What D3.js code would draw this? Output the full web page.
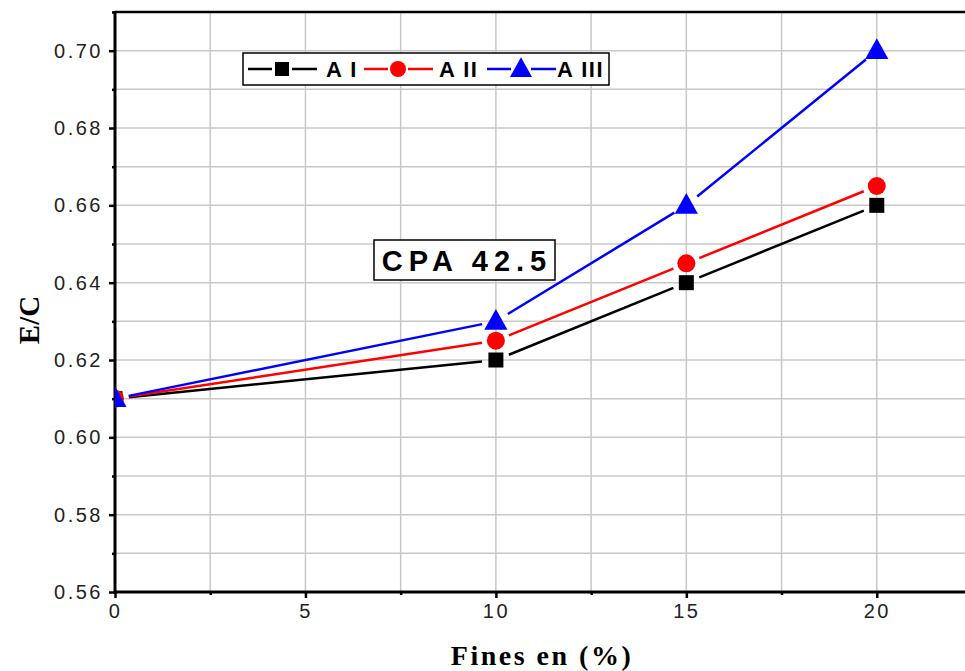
<!DOCTYPE html>
<html><head><meta charset="utf-8">
<script src="https://cdn.jsdelivr.net/npm/d3@7"></script>
<style>body{margin:0;background:#fff}svg{display:block}</style>
</head><body>
<script>
const fines = [0, 10, 15, 20];
const seriesNames = ["A I", "A II", "A III"];
const valuesAI = [0.61, 0.62, 0.64, 0.66];
const valuesAII = [0.61, 0.625, 0.645, 0.665];
const valuesAIII = [0.61, 0.63, 0.66, 0.70];
const xTicks = [0, 5, 10, 15, 20];
const yTicks = [0.56, 0.58, 0.60, 0.62, 0.64, 0.66, 0.68, 0.70];
const colors = ["#000000", "#ff0000", "#0000ff"];
const shapes = ["square", "circle", "triangle"];
const annotation = "CPA 42.5";

const W = 965, H = 671;
const svg = d3.select("body").append("svg").attr("width", W).attr("height", H);
const x = d3.scaleLinear().domain([0, 22.5]).range([115, 972]);
const y = d3.scaleLinear().domain([0.56, 0.71]).range([592, 12]);

svg.append("defs").append("clipPath").attr("id","clip")
  .append("rect").attr("x",115).attr("y",12).attr("width",W-115).attr("height",580);

// grid
const g = svg.append("g");
d3.range(0, 22.6, 2.5).forEach(v => {
  g.append("line").attr("x1",x(v)).attr("x2",x(v)).attr("y1",y(0.71)).attr("y2",y(0.56))
    .attr("stroke","#c8c8c8").attr("stroke-width",1.5);
});
d3.range(0,16).map(i=>0.56+i*0.01).forEach(v => {
  g.append("line").attr("x1",x(0)).attr("x2",W).attr("y1",y(v)).attr("y2",y(v))
    .attr("stroke","#c8c8c8").attr("stroke-width",1.5);
});

// axes
const xAxis = d3.axisBottom(x).tickValues(xTicks).tickSize(6).tickPadding(6).tickFormat(d3.format("d"));
const xMinor = d3.axisBottom(x).tickValues(d3.range(2.5, 22.6, 5)).tickSize(3).tickFormat("");
const yAxis = d3.axisLeft(y).tickValues(yTicks).tickSize(6).tickPadding(6).tickFormat(d3.format(".2f"));
const yMinor = d3.axisLeft(y).tickValues(d3.range(0,8).map(i=>0.57+i*0.02)).tickSize(3).tickFormat("");

function styleAxis(sel){
  sel.attr("font-size", 20).attr("font-family", "Liberation Sans, Arial, sans-serif");
  sel.select(".domain").remove();
  sel.selectAll(".tick line").attr("stroke","#000").attr("stroke-width",2.5);
  sel.selectAll(".tick text").attr("fill","#222").style("font-size","20px").style("letter-spacing","2.5px");
}
svg.append("g").attr("transform","translate(0,592)").call(xAxis).call(styleAxis);
svg.append("g").attr("transform","translate(0,592)").call(xMinor).call(styleAxis);
svg.append("g").attr("transform","translate(115,0)").call(yAxis).call(styleAxis);
svg.append("g").attr("transform","translate(115,0)").call(yMinor).call(styleAxis);

// frame lines
svg.append("line").attr("x1",115).attr("x2",W).attr("y1",12).attr("y2",12).attr("stroke","#000").attr("stroke-width",2.5);
svg.append("line").attr("x1",115).attr("x2",W).attr("y1",592).attr("y2",592).attr("stroke","#000").attr("stroke-width",3);
svg.append("line").attr("x1",115).attr("x2",115).attr("y1",11).attr("y2",594).attr("stroke","#000").attr("stroke-width",3);

// markers
function marker(sel, shape, cx, cy, color, s){
  if(shape==="square") sel.append("rect").attr("x",cx-s/2).attr("y",cy-s/2).attr("width",s).attr("height",s).attr("fill",color);
  else if(shape==="circle") sel.append("circle").attr("cx",cx).attr("cy",cy).attr("r",s/2).attr("fill",color);
  else sel.append("path").attr("d",`M${cx},${cy-s*0.62}L${cx+s*0.58},${cy+s*0.42}L${cx-s*0.58},${cy+s*0.42}Z`).attr("fill",color);
}
const sizes = [15, 18, 20];
const plot = svg.append("g").attr("clip-path","url(#clip)");
[valuesAI, valuesAII, valuesAIII].forEach((vals, si) => {
  const pts = fines.map((f,i)=>[x(f), y(vals[i])]);
  for(let i=0;i<pts.length-1;i++){
    const [x1,y1]=pts[i], [x2,y2]=pts[i+1];
    const L=Math.hypot(x2-x1,y2-y1), gap=14;
    const ux=(x2-x1)/L, uy=(y2-y1)/L;
    plot.append("line").attr("x1",x1+ux*gap).attr("y1",y1+uy*gap).attr("x2",x2-ux*gap).attr("y2",y2-uy*gap)
      .attr("stroke",colors[si]).attr("stroke-width",2.5);
  }
  pts.forEach(p=>marker(plot, shapes[si], p[0], p[1], colors[si], sizes[si]));
});

// legend
const lg = svg.append("g");
lg.append("rect").attr("x",243).attr("y",53).attr("width",366).attr("height",32).attr("fill","#fff").attr("stroke","#000").attr("stroke-width",1.5);
const legX = [248, 364, 487];
const textX = [326, 439, 557];
seriesNames.forEach((n,i)=>{
  const lx = legX[i], cy=69;
  lg.append("line").attr("x1",lx).attr("x2",lx+69).attr("y1",cy).attr("y2",cy).attr("stroke",colors[i]).attr("stroke-width",2.5);
  lg.append("rect").attr("x",lx+24).attr("y",cy-8).attr("width",20).attr("height",16).attr("fill","#fff");
  marker(lg, shapes[i], lx+34, cy, colors[i], [14,16,19][i]);
  lg.append("text").attr("x",textX[i]).attr("y",cy+8).text(n).attr("fill","#000")
    .style("font-family","Liberation Sans, Arial, sans-serif").style("font-size","22px").style("font-weight","bold")
    .style("letter-spacing","1.5px");
});

// annotation
svg.append("rect").attr("x",374).attr("y",240).attr("width",181).attr("height",40).attr("fill","#fff").attr("stroke","#000").attr("stroke-width",1.5);
svg.append("text").attr("x",467).attr("y",271).attr("text-anchor","middle").text(annotation)
  .style("font-family","Liberation Sans, Arial, sans-serif").style("font-size","29px").style("font-weight","bold").style("letter-spacing","6px");

// axis titles
svg.append("text").attr("x",542).attr("y",665).attr("text-anchor","middle").text("Fines en (%)")
  .style("font-family","Liberation Serif, Times New Roman, serif").style("font-size","28px").style("font-weight","bold").style("letter-spacing","2.5px");
svg.append("text").attr("transform","translate(39,320) rotate(-90)").attr("text-anchor","middle").text("E/C")
  .style("font-family","Liberation Serif, Times New Roman, serif").style("font-size","29px").style("font-weight","bold");
</script>
</body></html>
